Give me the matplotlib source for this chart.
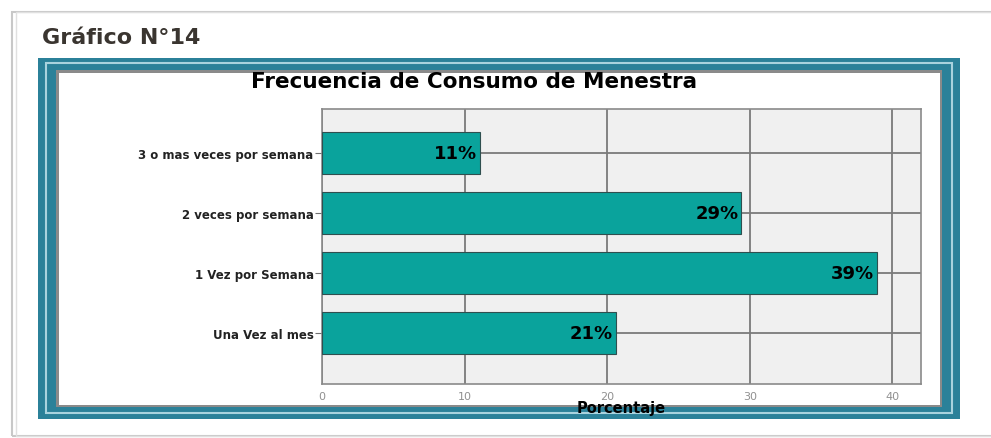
import matplotlib.pyplot as plt
from matplotlib.patches import Rectangle

# Datos del gráfico (de abajo hacia arriba)
categorias = ["Una Vez al mes", "1 Vez por Semana", "2 veces por semana", "3 o mas veces por semana"]
porcentajes = [20.6, 38.9, 29.4, 11.1]
ticks_x = [0, 10, 20, 30, 40]

W, H = 991, 439
fig = plt.figure(figsize=(W / 100, H / 100), dpi=100)
fig.patch.set_facecolor("white")


def caja(x0, y0, x1, y1, **kw):
    # rectangulo en pixeles (origen arriba-izquierda)
    fig.patches.append(Rectangle((x0 / W, 1 - y1 / H), (x1 - x0) / W, (y1 - y0) / H,
                                 transform=fig.transFigure, zorder=-1, **kw))


# marco exterior gris
caja(12, 13, 1000, 437, facecolor="none", edgecolor="#c8c8c8", lw=1.5)
caja(16, 13, 1000, 437, facecolor="none", edgecolor="#e0e0e0", lw=1)

# marco azul verdoso
caja(38, 59, 960, 420, facecolor="#2b8199", edgecolor="none")
caja(46, 64, 952, 414, facecolor="none", edgecolor="#a9d3de", lw=1.5)
caja(56, 71, 942, 408, facecolor="#8a8a8a", edgecolor="none")
caja(59, 74, 940, 406, facecolor="white", edgecolor="none")

fig.text(42 / W, 1 - 38 / H, "Gráfico N°14", fontsize=16, fontweight="bold",
         color="#3a3530", ha="left", va="center")

ax = fig.add_axes([322 / W, 1 - 385 / H, 599 / W, 275 / H])
ax.set_facecolor("#f0f0f0")
y = range(len(categorias))
ax.barh(y, porcentajes, height=0.7, color="#0aa39c", edgecolor="#2f4f4f", lw=0.8, zorder=3)
for yi, v in zip(y, porcentajes):
    ax.text(v - 0.2, yi, f"{v:.0f}%", ha="right", va="center", fontsize=13,
            fontweight="bold", color="black", zorder=4)

ax.set_xlim(0, 42)
ax.set_ylim(-0.85, 3.73)
ax.set_xticks(ticks_x)
ax.set_yticks(list(y))
ax.set_yticklabels(categorias, fontsize=8.5, fontweight="bold", color="#222222")
ax.set_xticklabels([str(t) for t in ticks_x], fontsize=8, color="#909090")
ax.tick_params(axis="y", length=5, width=0.8, color="#707070", pad=1)
ax.tick_params(axis="x", length=0, pad=5)
ax.grid(True, color="#7a7a7a", lw=1.3, zorder=1)
ax.set_axisbelow(True)
for s in ax.spines.values():
    s.set_color("#8a8a8a")
    s.set_linewidth(1.2)

ax.set_xlabel("Porcentaje", fontsize=10.5, fontweight="bold", labelpad=-1)
fig.text(474 / W, 1 - 82 / H, "Frecuencia de Consumo de Menestra", fontsize=15.5,
         fontweight="bold", ha="center", va="center")

fig.savefig("out.png", dpi=100)
